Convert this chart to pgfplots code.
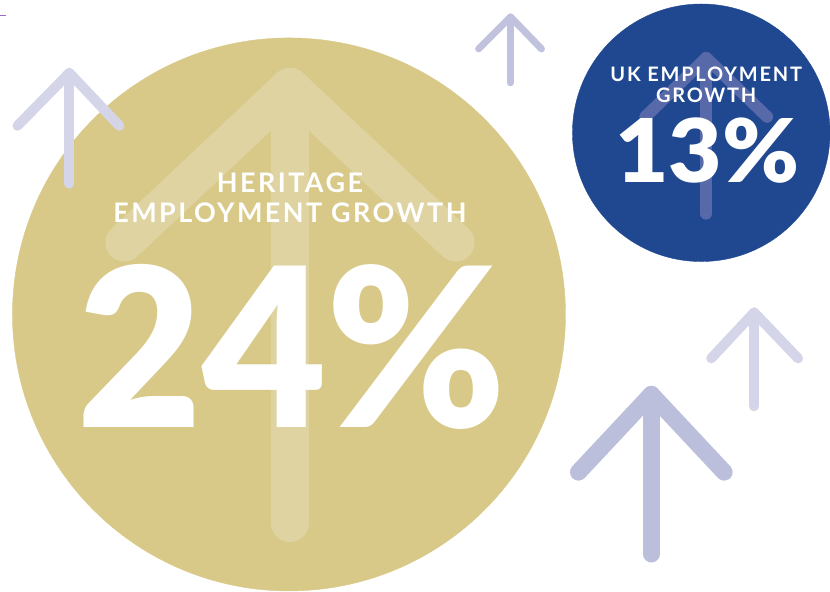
\documentclass[border=0pt]{standalone}
\usepackage{pgfplots}
\pgfplotsset{compat=1.18}
\usepackage{fontspec}
\setmainfont{Lato}
\newfontfamily\lbl[LetterSpace=9]{Lato Bold}
\newfontfamily\bigfig{Lato Black}
\definecolor{gold}{HTML}{D8C988}
\definecolor{goldarrow}{HTML}{DFD4A1}
\definecolor{navy}{HTML}{1F4891}
\definecolor{navyarrow}{HTML}{5769A8}
\definecolor{lavA}{HTML}{D4D5E8}
\definecolor{lavB}{HTML}{C1C3DE}
\definecolor{lavC}{HTML}{BCBFDB}
\definecolor{straycol}{HTML}{9B6DC0}
\begin{document}
\begin{tikzpicture}
\begin{axis}[
  hide axis, scale only axis,
  width=830bp, height=593bp,
  xmin=0, xmax=830, ymin=0, ymax=593,
  y dir=reverse, clip=false, clip marker paths=true,
  every axis plot/.append style={line cap=round, line join=round},
]
% page frame
\addplot[draw=none] coordinates {(0,0) (830,593)};
% stray rule top left
\addplot[color=straycol, line width=1bp, line cap=butt] coordinates {(0,15.5) (6,15.5)};

% circles: heritage 24%, UK 13%
\addplot[color=gold, only marks, mark=*, mark size=277bp, mark options={draw=gold, fill=gold}] coordinates {(289,315)};
\addplot[color=navy, only marks, mark=*, mark size=129bp, mark options={draw=navy, fill=navy}] coordinates {(702,133)};

% arrows inside circles
\addplot[color=goldarrow, line width=38bp] coordinates {(124,243) (290,87) (456,243)};
\addplot[color=goldarrow, line width=38bp] coordinates {(290,87) (290,524)};
\addplot[color=navyarrow, line width=12bp] coordinates {(646,117) (707,58) (768,117)};
\addplot[color=navyarrow, line width=12bp] coordinates {(707,58) (707,214)};

% loose arrows
\addplot[color=lavA, line width=10bp] coordinates {(17,126) (69,73) (119,126)};
\addplot[color=lavA, line width=10bp] coordinates {(69,73) (69,184)};
\addplot[color=lavB, line width=7bp] coordinates {(479,49) (511,17) (542,49)};
\addplot[color=lavB, line width=7bp] coordinates {(511,17) (511,83)};
\addplot[color=lavA, line width=10bp] coordinates {(712,359) (755,313) (799,359)};
\addplot[color=lavA, line width=10bp] coordinates {(755,313) (755,407)};
\addplot[color=lavC, line width=17bp] coordinates {(579,473) (652,395) (725,473)};
\addplot[color=lavC, line width=17bp] coordinates {(652,395) (652,555)};

% labels
\node[anchor=base, white, inner sep=0pt] at (axis cs:290,193) {\lbl\fontsize{27bp}{27bp}\selectfont HERITAGE};
\node[anchor=base, white, inner sep=0pt] at (axis cs:290,223) {\lbl\fontsize{27bp}{27bp}\selectfont EMPLOYMENT GROWTH};
\node[anchor=base, white, inner sep=0pt, xscale=0.97] at (axis cs:292,428) {\bigfig\fontsize{222bp}{222bp}\selectfont 24\%};
\node[anchor=base, white, inner sep=0pt] at (axis cs:707,82) {\lbl\fontsize{20bp}{20bp}\selectfont UK EMPLOYMENT};
\node[anchor=base, white, inner sep=0pt] at (axis cs:707,103) {\lbl\fontsize{20bp}{20bp}\selectfont GROWTH};
\node[anchor=base, white, inner sep=0pt, xscale=1.05] at (axis cs:708,183) {\bigfig\fontsize{88bp}{88bp}\selectfont 13\%};
\end{axis}
\end{tikzpicture}
\end{document}
